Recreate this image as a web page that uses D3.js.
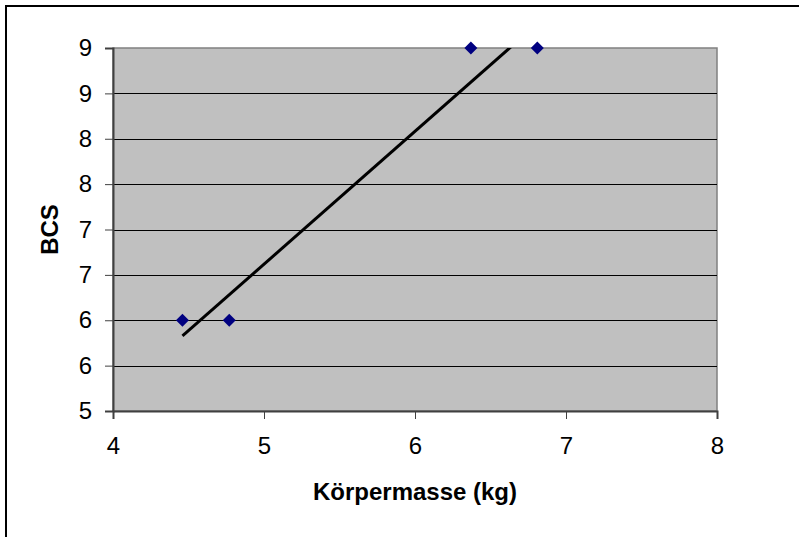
<!DOCTYPE html>
<html>
<head>
<meta charset="utf-8">
<script src="https://cdn.jsdelivr.net/npm/d3@7"></script>
<style>
  body { margin: 0; background: #fff; }
  text { font-family: "Liberation Sans", Arial, sans-serif; }
</style>
</head>
<body>
<div id="chart"></div>
<script>
// data
var masse = [4.46, 4.77, 6.37, 6.81];
var bcs = [6, 6, 9, 9];
var xTicks = [4, 5, 6, 7, 8];
var yTicks = [5, 5.5, 6, 6.5, 7, 7.5, 8, 8.5, 9];

var svgWidth = 799;
var svgHeight = 537;

var margin = { top: 48, right: 82, bottom: 126, left: 113 };
var width = svgWidth - margin.left - margin.right;
var height = svgHeight - margin.top - margin.bottom;

var svg = d3.select("#chart")
  .append("svg")
  .attr("width", svgWidth)
  .attr("height", svgHeight);

// chart area border (runs off the right and bottom of the picture)
svg.append("rect")
  .attr("x", 6)
  .attr("y", 6)
  .attr("width", 900)
  .attr("height", 900)
  .attr("fill", "none")
  .attr("stroke", "#000")
  .attr("stroke-width", 2);

var chartGroup = svg.append("g")
  .attr("transform", `translate(${margin.left}, ${margin.top})`);

var xScale = d3.scaleLinear().domain([4, 8]).range([0, width]);
var yScale = d3.scaleLinear().domain([5, 9]).range([height, 0]);

// plot area
chartGroup.append("rect")
  .attr("width", width)
  .attr("height", height)
  .attr("fill", "#c0c0c0")
  .attr("stroke", "#808080")
  .attr("stroke-width", 1.5);

// gridlines
chartGroup.append("g")
  .selectAll("line")
  .data(yTicks.filter(d => d > 5 && d < 9))
  .enter()
  .append("line")
  .attr("x1", 0)
  .attr("x2", width)
  .attr("y1", d => Math.round(yScale(d)) + 0.5)
  .attr("y2", d => Math.round(yScale(d)) + 0.5)
  .attr("stroke", "#000")
  .attr("stroke-width", 1);

// axes
var leftAxis = d3.axisLeft(yScale)
  .tickValues(yTicks)
  .tickSize(8)
  .tickPadding(13)
  .tickFormat(d => Math.round(d));

var bottomAxis = d3.axisBottom(xScale)
  .tickValues(xTicks)
  .tickSize(8)
  .tickPadding(18)
  .tickFormat(d3.format("d"));

var yAxis = chartGroup.append("g").call(leftAxis);
var xAxis = chartGroup.append("g")
  .attr("transform", `translate(0, ${height})`)
  .call(bottomAxis);

[yAxis, xAxis].forEach(function(ax) {
  ax.select(".domain").attr("stroke", "#404040").attr("stroke-width", 2);
  ax.selectAll(".tick line").attr("stroke", "#404040");
  ax.selectAll("text")
    .attr("font-size", "24px")
    .attr("fill", "#000")
    .style("font-family", "'Liberation Sans', Arial, sans-serif");
});

// linear trendline over the data range, clipped to the plot area
var mx = d3.mean(masse), my = d3.mean(bcs);
var sxy = d3.sum(masse, (d, i) => (d - mx) * (bcs[i] - my));
var sxx = d3.sum(masse, d => (d - mx) * (d - mx));
var slope = sxy / sxx;
var icpt = my - slope * mx;
var x0 = d3.min(masse), x1 = d3.max(masse);
var trend = [x0, x1].map(x => [x, icpt + slope * x]);

chartGroup.append("clipPath")
  .attr("id", "plotclip")
  .append("rect")
  .attr("width", width)
  .attr("height", height);

chartGroup.append("path")
  .datum(trend)
  .attr("clip-path", "url(#plotclip)")
  .attr("fill", "none")
  .attr("stroke", "#000")
  .attr("stroke-width", 3)
  .attr("d", d3.line().x(d => xScale(d[0])).y(d => yScale(d[1])));

// markers
chartGroup.append("g")
  .selectAll("path")
  .data(masse)
  .enter()
  .append("path")
  .attr("transform", (d, i) => `translate(${xScale(d)}, ${yScale(bcs[i])})`)
  .attr("d", "M0,-6.5L6.5,0L0,6.5L-6.5,0Z")
  .attr("fill", "#000080");

// axis titles
chartGroup.append("text")
  .attr("x", width / 2)
  .attr("y", height + 89)
  .attr("text-anchor", "middle")
  .attr("font-size", "24px")
  .attr("font-weight", "bold")
  .text("Körpermasse (kg)");

chartGroup.append("text")
  .attr("transform", "rotate(-90)")
  .attr("x", -height / 2)
  .attr("y", -55)
  .attr("text-anchor", "middle")
  .attr("font-size", "24px")
  .attr("font-weight", "bold")
  .text("BCS");
</script>
</body>
</html>
